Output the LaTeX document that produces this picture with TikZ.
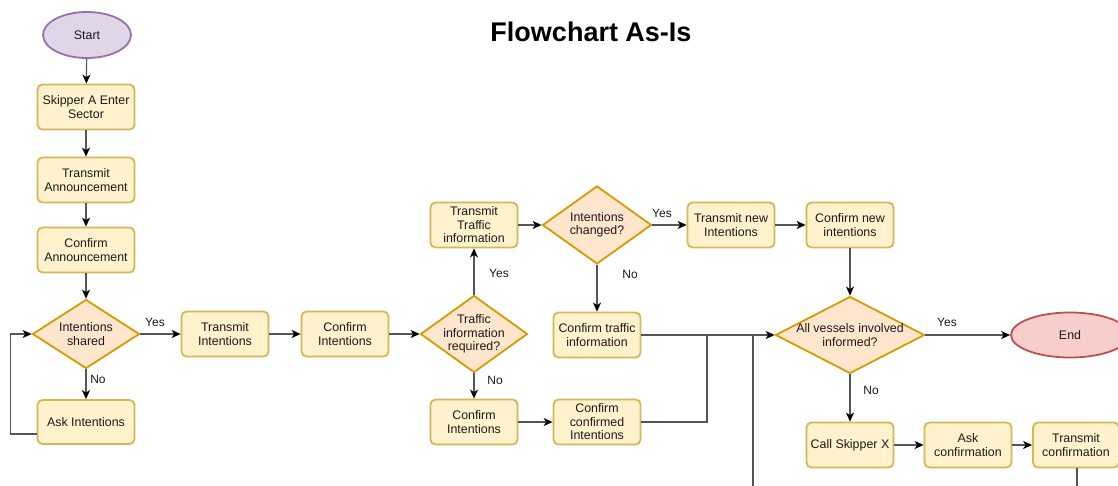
\documentclass[tikz,border=0pt]{standalone}
\usepackage{fontspec}
\setmainfont{Liberation Sans}
\usetikzlibrary{shapes.geometric,arrows.meta}
\definecolor{boxfill}{HTML}{FFF2CC}
\definecolor{boxdraw}{HTML}{D6B656}
\definecolor{decfill}{HTML}{FFE6CC}
\definecolor{decdraw}{HTML}{D79B00}
\definecolor{startfill}{HTML}{E1D5E7}
\definecolor{startdraw}{HTML}{9673A6}
\definecolor{endfill}{HTML}{F8CECC}
\definecolor{enddraw}{HTML}{B85450}
\definecolor{linec}{HTML}{555555}
\definecolor{txt}{HTML}{1A1A1A}
\tikzset{
  txtfont/.style={font=\fontsize{12.4}{13.5}\selectfont, text=txt},
  procbox/.style={rectangle, rounded corners=5pt, draw=boxdraw, fill=boxfill, line width=1.8pt,
    minimum width=87pt, minimum height=45pt, inner sep=0pt, align=center, txtfont},
  decbox/.style={diamond, draw=decdraw, fill=decfill, line width=1.8pt, inner sep=0pt, aspect=1.4},
  dlabel/.style={txtfont, align=center},
  termbox/.style={ellipse, line width=1.8pt, inner sep=0pt, txtfont},
  conn/.style={draw=linec, line width=1.2pt, -{Stealth[length=9pt,width=8pt,inset=2.5pt,color=black]}},
  plain/.style={draw=linec, line width=1.2pt},
  yn/.style={font=\fontsize{12}{13}\selectfont, text=txt},
}
\begin{document}
\begin{tikzpicture}[x=1pt,y=-1pt]
\useasboundingbox (0,0) rectangle (1118,486);
\clip (0,0) rectangle (1118,486);
\fill[white] (0,0) rectangle (1118,486);

\node[font=\bfseries\fontsize{27}{30}\selectfont, text=black] (title) at (591,32) {Flowchart As-Is};

% left column
\node[termbox, draw=startdraw, fill=startfill, minimum width=88pt, minimum height=46pt] (start) at (87,35) {Start};
\node[procbox, minimum width=97pt] (skipA) at (86,107) {Skipper A Enter\\Sector};
\node[procbox, minimum width=97pt] (transAnn) at (86,180) {Transmit\\Announcement};
\node[procbox, minimum width=97pt] (confAnn) at (86,250) {Confirm\\Announcement};
\node[decbox, minimum width=107pt, minimum height=69pt, label={[dlabel]center:Intentions\\shared}] (shared) at (86,334) {};
\node[procbox, minimum width=97pt, minimum height=44pt] (askInt) at (86,422) {Ask Intentions};

% middle row
\node[procbox] (transInt) at (225,334) {Transmit\\Intentions};
\node[procbox] (confInt) at (345,334) {Confirm\\Intentions};
\node[decbox, minimum width=107pt, minimum height=77pt, label={[dlabel]center:Traffic\\information\\required?}] (traffic) at (474,334) {};
\node[procbox] (transTraffic) at (474,225) {Transmit\\Traffic\\information};
\node[procbox] (confInt2) at (474,422) {Confirm\\Intentions};
\node[decbox, minimum width=109pt, minimum height=78pt, label={[dlabel]center:Intentions\\changed?}] (changed) at (597,225) {};
\node[procbox] (confTraffic) at (597,335) {Confirm traffic\\information};
\node[procbox] (confConf) at (597,422) {Confirm\\confirmed\\Intentions};

% right part
\node[procbox] (transNew) at (731,225) {Transmit new\\Intentions};
\node[procbox] (confNew) at (850,225) {Confirm new\\intentions};
\node[decbox, minimum width=149pt, minimum height=77pt, label={[dlabel]center:All vessels involved\\informed?}] (vessels) at (850,335) {};
\node[termbox, draw=enddraw, fill=endfill, minimum width=118pt, minimum height=45pt] (end) at (1070,335) {End};
\node[procbox] (callX) at (850,445) {Call Skipper X};
\node[procbox] (askConf) at (968,445) {Ask\\confirmation};
\node[procbox, minimum width=86pt] (transConf) at (1076,445) {Transmit\\confirmation};

\coordinate (j1) at (707,335);
\coordinate (jb) at (753,490);
\coordinate (jc) at (1077,490);

% connectors
\draw[conn] (start) -- (skipA);
\draw[conn] (skipA) -- (transAnn);
\draw[conn] (transAnn) -- (confAnn);
\draw[conn] (confAnn) -- (shared);
\draw[conn] (shared.east) -- (transInt.west);
\node[yn] (yes1) at (155,322) {Yes};
\draw[conn] (shared.south) -- (askInt.north);
\node[yn] (no1) at (98,379) {No};
\draw[conn] ([yshift=-12pt]askInt.west) -- ++(-26,0) |- (shared.west);
\draw[conn] (transInt) -- (confInt);
\draw[conn] (confInt.east) -- (traffic.west);
\draw[conn] (traffic.north) -- (transTraffic.south);
\node[yn] (yes2) at (499,273) {Yes};
\draw[conn] (traffic.south) -- (confInt2.north);
\node[yn] (no2) at (495,380) {No};
\draw[conn] (transTraffic.east) -- (changed.west);
\draw[conn] (changed.east) -- (transNew.west);
\node[yn] (yes3) at (662,213) {Yes};
\draw[conn] (changed.south) -- (confTraffic.north);
\node[yn] (no3) at (630,274) {No};
\draw[conn] (transNew) -- (confNew);
\draw[conn] (confNew.south) -- (vessels.north);
\draw[conn] (confTraffic.east) -- (vessels.west);
\draw[conn] (confInt2) -- (confConf);
\draw[plain] (confConf.east) -| (j1);
\draw[plain] (jb) -- (jb |- j1);
\draw[conn] (vessels.east) -- (end.west);
\node[yn] (yes4) at (947,322) {Yes};
\draw[conn] (vessels.south) -- (callX.north);
\node[yn] (no4) at (871,390) {No};
\draw[conn] (callX) -- (askConf);
\draw[conn] (askConf) -- (transConf);
\draw[plain] (transConf.south -| jc) -- (jc);
\end{tikzpicture}
\end{document}
